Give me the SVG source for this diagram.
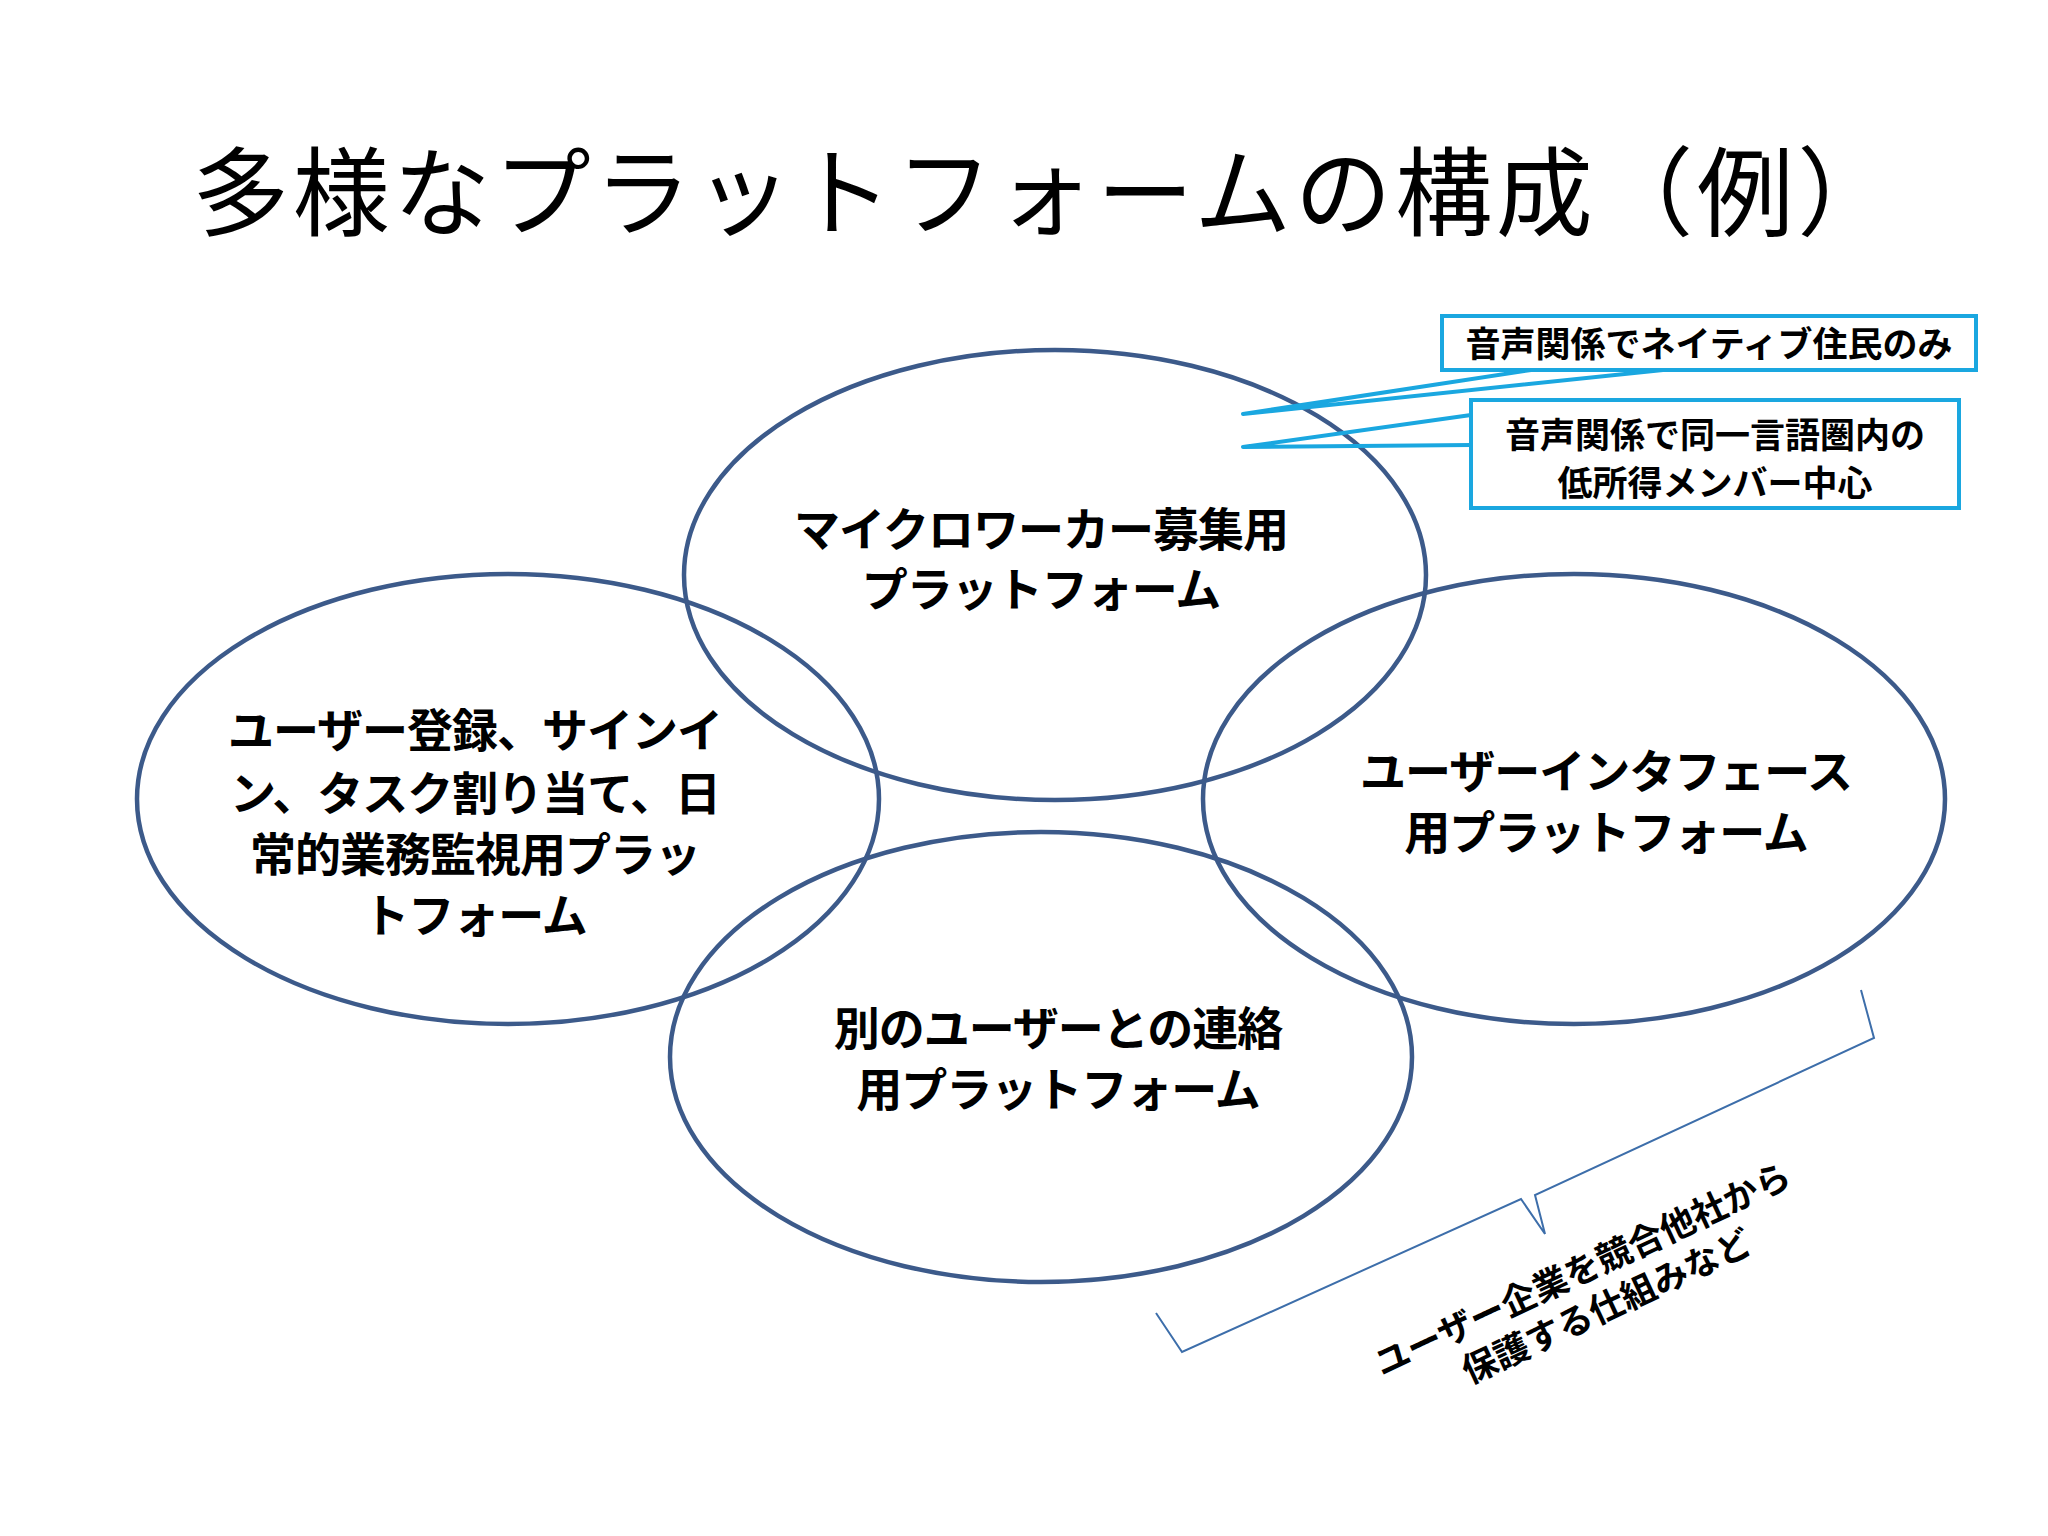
<svg xmlns="http://www.w3.org/2000/svg" width="2048" height="1536" viewBox="0 0 2048 1536">
<style>
.e{fill:none;stroke:#3c5a8a;stroke-width:4.5}
.t{font-family:"Noto Sans CJK JP",sans-serif;font-weight:bold;font-size:46px;fill:#000;text-anchor:middle;letter-spacing:-1px}
.c{font-family:"Noto Sans CJK JP",sans-serif;font-weight:bold;font-size:35px;fill:#000;text-anchor:middle}
.b{fill:#fff;stroke:#1aa7e0;stroke-width:4}
.l{fill:none;stroke:#1aa7e0;stroke-width:4;stroke-linejoin:round}
</style>
<rect width="2048" height="1536" fill="#fff"/>
<text x="1045" y="228" font-family="Noto Sans CJK JP,sans-serif" font-size="97" letter-spacing="3.5" text-anchor="middle">多様なプラットフォームの構成（例）</text>
<g id="top"><ellipse class="e" cx="1055" cy="575" rx="371" ry="225"/><text class="t" x="1041" y="546">マイクロワーカー募集用</text><text class="t" x="1041" y="606">プラットフォーム</text></g>
<g id="left"><ellipse class="e" cx="508" cy="799" rx="371" ry="225"/><text class="t" x="475" y="747">ユーザー登録、サインイ</text><text class="t" x="475" y="810">ン、タスク割り当て、日</text><text class="t" x="475" y="871">常的業務監視用プラッ</text><text class="t" x="475" y="932">トフォーム</text></g>
<g id="right"><ellipse class="e" cx="1574" cy="799" rx="371" ry="225"/><text class="t" x="1606" y="788">ユーザーインタフェース</text><text class="t" x="1606" y="849">用プラットフォーム</text></g>
<g id="bottom"><ellipse class="e" cx="1041" cy="1057" rx="371" ry="225"/><text class="t" x="1058" y="1045">別のユーザーとの連絡</text><text class="t" x="1058" y="1106">用プラットフォーム</text></g>
<g id="connectors">
<polyline class="l" points="1531,370 1243,414 1663,370"/>
<polyline class="l" points="1471,415 1243,447 1471,445"/>
<polyline fill="none" stroke="#3d6eaa" stroke-width="2" points="1861,990 1874,1038 1535,1195 1545,1234 1521,1199 1182,1352 1156,1313"/>
</g>
<g id="callout1"><rect class="b" x="1442" y="316" width="534" height="54"/><text class="c" x="1709" y="357">音声関係でネイティブ住民のみ</text></g>
<g id="callout2"><rect class="b" x="1471" y="400" width="488" height="108"/><text class="c" x="1715" y="448">音声関係で同一言語圏内の</text><text class="c" x="1715" y="496">低所得メンバー中心</text></g>
<g id="note" transform="translate(1582,1268) rotate(-25)"><text class="c" font-size="42" x="0" y="14">ユーザー企業を競合他社から</text><text class="c" font-size="42" x="6" y="58">保護する仕組みなど</text></g>
</svg>
